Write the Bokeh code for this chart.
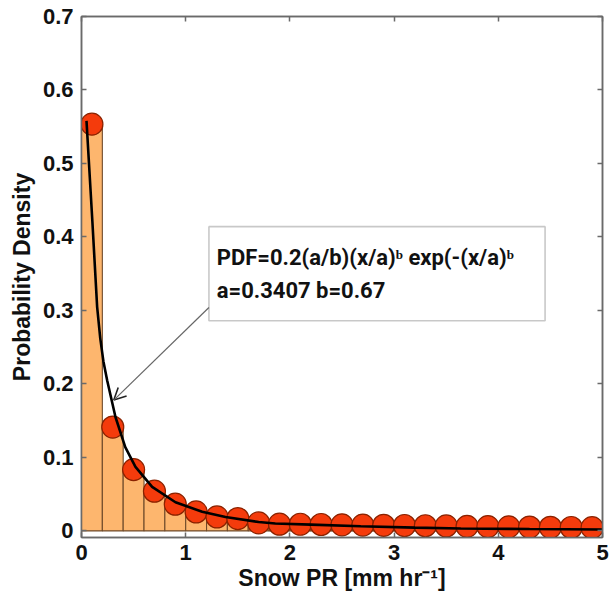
from bokeh.plotting import figure
from bokeh.models import (LinearAxis, FixedTicker, CustomJSTickFormatter, BoxAnnotation,
                          Label, Arrow, OpenHead, ColumnDataSource, Range1d)
from bokeh.embed import file_html
from bokeh.resources import INLINE

# Histogram of snow precipitation rate (bin centres, mm/hr) and its densities
bin_centers = [0.1, 0.3, 0.5, 0.7, 0.9, 1.1, 1.3, 1.5, 1.7, 1.9, 2.1, 2.3, 2.5,
               2.7, 2.9, 3.1, 3.3, 3.5, 3.7, 3.9, 4.1, 4.3, 4.5, 4.7, 4.9]
density = [0.5535, 0.1413, 0.0834, 0.0540, 0.0363, 0.0258, 0.0190, 0.0168, 0.0109,
           0.0091, 0.0090, 0.0087, 0.0082, 0.0079, 0.0076, 0.0073, 0.0070, 0.0067,
           0.0062, 0.0058, 0.0055, 0.0052, 0.0049, 0.0046, 0.0044]
bin_width = 0.2

# Fitted PDF curve
fit_x = [0.048, 0.104, 0.15, 0.18, 0.21, 0.246, 0.326, 0.42, 0.518, 0.678, 0.902, 1.158,
         1.382, 1.70, 1.86, 2.2, 2.68, 3.2, 3.64, 4.3, 5.0]
fit_y = [0.558, 0.422, 0.305, 0.262, 0.231, 0.205, 0.155, 0.114, 0.087, 0.060, 0.039,
         0.026, 0.019, 0.012, 0.010, 0.0085, 0.0064, 0.0045, 0.0033, 0.0025, 0.0019]

x_ticks = [0, 1, 2, 3, 4, 5]
y_ticks = [0, 0.1, 0.2, 0.3, 0.4, 0.5, 0.6, 0.7]

fit_text_1 = "PDF=0.2(a/b)(x/a)\u1d47 exp(-(x/a)\u1d47"
fit_text_2 = "a=0.3407 b=0.67"

FONT = "Liberation Sans"
NOTE_FONT = "Roboto"
FRAME_COLOR = "#6a6a6a"

src = ColumnDataSource(dict(
    left=[c - bin_width / 2 for c in bin_centers],
    right=[c + bin_width / 2 for c in bin_centers],
    top=density,
    x=bin_centers,
))

p = figure(width=613, height=599, x_range=Range1d(0, 5), y_range=Range1d(-0.009, 0.7),
           output_backend="svg", toolbar_location=None,
           min_border_left=81, min_border_right=11, min_border_top=16, min_border_bottom=62)
p.background_fill_color = "white"
p.border_fill_color = "white"
p.xgrid.visible = False
p.ygrid.visible = False
p.outline_line_color = FRAME_COLOR
p.outline_line_width = 1.5

# bars, markers, fitted curve
p.quad(left="left", right="right", bottom=0, top="top", source=src,
       fill_color="#fdb66e", line_color="#6e4a2a", line_width=1.1)
p.scatter("x", "top", source=src, size=22, fill_color="#f43b0c",
          line_color="#8a2200", line_width=1.2)
p.line(fit_x, fit_y, line_color="black", line_width=2.6)

def style_axis(ax, show_labels):
    ax.axis_line_color = FRAME_COLOR
    ax.axis_line_width = 1.5
    ax.major_tick_line_color = FRAME_COLOR
    ax.major_tick_line_width = 1.5
    ax.major_tick_in = 5
    ax.major_tick_out = 0
    ax.minor_tick_line_color = None
    if show_labels:
        ax.major_label_text_font = FONT
        ax.major_label_text_font_style = "bold"
        ax.major_label_text_font_size = "22px"
        ax.major_label_text_color = "#111111"
        ax.axis_label_text_font = FONT
        ax.axis_label_text_font_style = "bold"
        ax.axis_label_text_font_size = "23px"
        ax.axis_label_text_color = "#111111"
    else:
        ax.major_label_text_font_size = "1px"
        ax.major_label_text_alpha = 0
        ax.major_label_standoff = 0
        ax.formatter = CustomJSTickFormatter(code="return '';")

xa = p.xaxis[0]
xa.ticker = FixedTicker(ticks=x_ticks)
xa.axis_label = "Snow PR [mm hr\u207b\u00b9]"
style_axis(xa, True)
xa.major_label_standoff = 7
xa.axis_label_standoff = 2

ya = p.yaxis[0]
ya.ticker = FixedTicker(ticks=y_ticks)
ya.formatter = CustomJSTickFormatter(code="return tick == 0 ? '0' : tick.toFixed(1);")
ya.axis_label = "Probability Density"
style_axis(ya, True)
ya.major_label_standoff = 8
ya.axis_label_standoff = 5

top_ax = LinearAxis(ticker=FixedTicker(ticks=x_ticks))
style_axis(top_ax, False)
p.add_layout(top_ax, "above")
right_ax = LinearAxis(ticker=FixedTicker(ticks=y_ticks))
style_axis(right_ax, False)
p.add_layout(right_ax, "right")

# annotation box with the fitted expression
p.add_layout(BoxAnnotation(left=1.223, right=4.449, bottom=0.286, top=0.414,
                           fill_color="white", fill_alpha=1.0,
                           line_color="#4a4a4a", line_width=1.6))
p.add_layout(Label(x=1.298, y=0.372, text=fit_text_1, text_font=NOTE_FONT,
                   text_font_style="bold", text_font_size="22px", text_color="#111111",
                   text_baseline="alphabetic"))
p.add_layout(Label(x=1.298, y=0.327, text=fit_text_2, text_font=NOTE_FONT,
                   text_font_style="bold", text_font_size="22px", text_color="#111111",
                   text_baseline="alphabetic"))
p.add_layout(Arrow(x_start=1.223, y_start=0.304, x_end=0.31, y_end=0.178,
                   line_color="#666666", line_width=1.2,
                   end=OpenHead(size=12, line_color="#222222", line_width=1.6)))

open("out.html", "w").write(file_html(p, INLINE))
